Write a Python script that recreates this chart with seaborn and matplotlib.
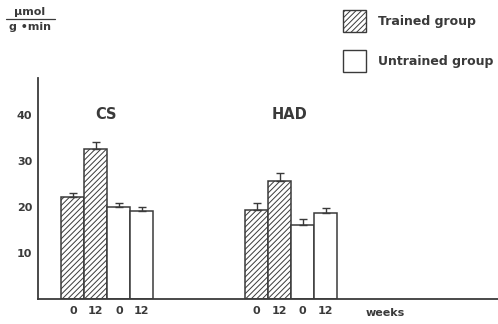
import pandas as pd
import matplotlib.pyplot as plt
import seaborn as sns
from matplotlib.patches import Patch
from matplotlib.lines import Line2D

# bar values (umol / g*min)
enzymes = ["CS", "CS", "CS", "CS", "HAD", "HAD", "HAD", "HAD"]
groups = ["Trained", "Trained", "Untrained", "Untrained"] * 2
weeks = ["0", "12", "0", "12"] * 2
means = [22.2, 32.6, 20.0, 19.1, 19.3, 25.6, 16.1, 18.7]
sems = [0.9, 1.5, 0.9, 0.9, 1.5, 1.8, 1.3, 1.1]
positions = [0, 1, 2, 3, 8, 9, 10, 11]

INK = "#3a3a3a"

df = pd.DataFrame({"pos": positions, "mean": means, "sem": sems,
                   "group": groups, "enzyme": enzymes, "week": weeks})

sns.set_theme(style="white")
plt.rcParams["font.family"] = ["DejaVu Sans"]
plt.rcParams["hatch.linewidth"] = 0.7
plt.rcParams["hatch.color"] = "#555555"

fig = plt.figure(figsize=(4.98, 3.24), dpi=100)
ax = fig.add_axes([38 / 498, 1 - 299 / 324, 1 - 38 / 498, (299 - 78) / 324])

sns.barplot(data=df, x="pos", y="mean", native_scale=True, width=1.0,
            color="white", edgecolor=INK, linewidth=1.1, errorbar=None,
            saturation=1, ax=ax)

for patch, g in zip(ax.patches, df["group"]):
    patch.set_facecolor("white")
    if g == "Trained":
        patch.set_hatch("//////")

ax.errorbar(df["pos"], df["mean"], yerr=[[0] * len(df), df["sem"]],
            fmt="none", ecolor=INK, elinewidth=1.0, capsize=3, capthick=1.0)

ax.set_xlim(-1.52, 18.5)
ax.set_ylim(0, 48)
ax.set_yticks([10, 20, 30, 40])
ax.set_yticklabels(["10", "20", "30", "40"], fontsize=8, fontweight="bold", color=INK)
ax.set_xticks(df["pos"])
ax.set_xticklabels(df["week"], fontsize=8, fontweight="bold", color=INK)
ax.tick_params(axis="y", direction="out", length=3, width=1, color=INK, pad=1)
ax.tick_params(axis="x", length=0, pad=5)
ax.set_xlabel("")
ax.set_ylabel("")
sns.despine(ax=ax, top=True, right=True)
for s in ["left", "bottom"]:
    ax.spines[s].set_color(INK)
    ax.spines[s].set_linewidth(1.3)

ax.text(1.43, 40, "CS", ha="center", va="center", fontsize=10.5, fontweight="bold", color=INK)
ax.text(9.43, 40, "HAD", ha="center", va="center", fontsize=10.5, fontweight="bold", color=INK)
ax.text(13.6, -3.1, "weeks", ha="center", va="center", fontsize=8,
        fontweight="bold", color=INK, clip_on=False)

# unit label at top left
fig.text(30 / 498, 1 - 12 / 324, "\u00b5mol", ha="center", va="center",
         fontsize=8, fontweight="bold", color=INK)
fig.text(30 / 498, 1 - 27 / 324, "g \u2022min", ha="center", va="center",
         fontsize=8, fontweight="bold", color=INK)
fig.add_artist(Line2D([6 / 498, 55 / 498], [1 - 19 / 324, 1 - 19 / 324],
                      color=INK, linewidth=0.9, transform=fig.transFigure))

handles = [Patch(facecolor="white", edgecolor=INK, hatch="//////", linewidth=1.0),
           Patch(facecolor="white", edgecolor=INK, linewidth=1.0)]
leg = fig.legend(handles, ["Trained group", "Untrained group"], loc="upper left",
                 bbox_to_anchor=(332 / 498, 1 + 1 / 324), frameon=False,
                 handlelength=1.84, handleheight=2.3, labelspacing=1.45,
                 handletextpad=0.96, prop={"size": 9, "weight": "bold"})
for t in leg.get_texts():
    t.set_color(INK)

fig.savefig("out.png", dpi=100)
